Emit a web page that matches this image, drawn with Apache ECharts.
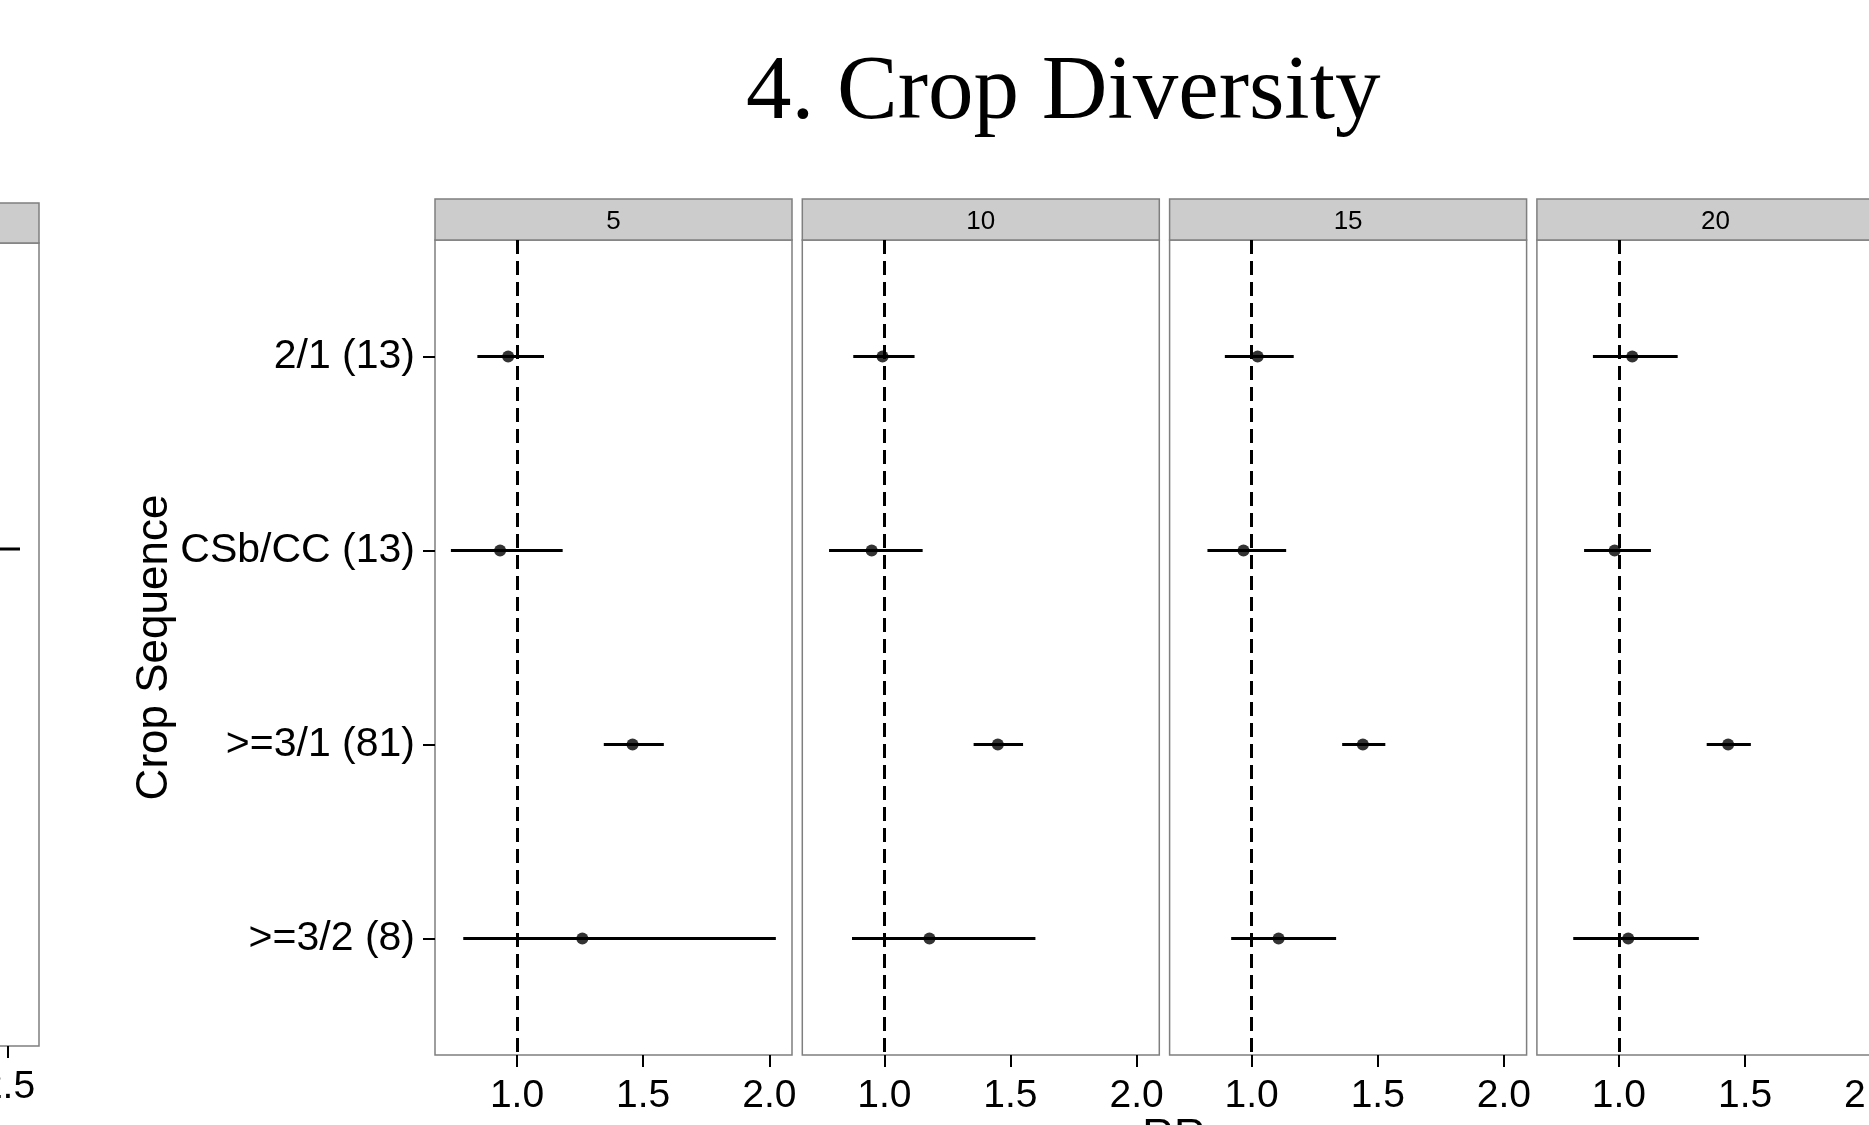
<!DOCTYPE html>
<html>
<head>
<meta charset="utf-8">
<script src="https://cdn.jsdelivr.net/npm/echarts@6/dist/echarts.min.js"></script>
<style>
html, body { margin: 0; padding: 0; background: #fff; }
#main { width: 1869px; height: 1125px; }
</style>
</head>
<body>
<div id="main"></div>
<script>
// rows, top to bottom
const cropSeq = ['2/1 (13)', 'CSb/CC (13)', '>=3/1 (81)', '>=3/2 (8)'];
const panelNames = ['5', '10', '15', '20'];
const xTicks = [1.0, 1.5, 2.0];

// RR and its interval, one set per panel
const rr5  = [0.965, 0.933, 1.458, 1.259];
const lo5  = [0.843, 0.738, 1.344, 0.787];
const hi5  = [1.107, 1.181, 1.582, 2.026];

const rr10 = [0.993, 0.950, 1.450, 1.179];
const lo10 = [0.877, 0.781, 1.354, 0.872];
const hi10 = [1.120, 1.152, 1.550, 1.599];

const rr15 = [1.024, 0.968, 1.441, 1.107];
const lo15 = [0.894, 0.825, 1.359, 0.919];
const hi15 = [1.167, 1.137, 1.530, 1.335];

const rr20 = [1.053, 0.983, 1.433, 1.037];
const lo20 = [0.897, 0.862, 1.348, 0.819];
const hi20 = [1.233, 1.127, 1.523, 1.317];

// piece of the previous chart cut at the left edge
const prevTicks = [2.5];
const prevLo = [2.25];
const prevHi = [2.585];
const prevRow = [2];

const rrs = [rr5, rr10, rr15, rr20];
const los = [lo5, lo10, lo15, lo20];
const his = [hi5, hi10, hi15, hi20];

const chart = echarts.init(document.getElementById('main'));

const PANEL_W = 357, PANEL_STEP = 367.3, PANEL_LEFT = 435;
const PANEL_TOP = 240, PANEL_H = 815, STRIP_H = 41;
const SANS = 'Liberation Sans, Arial, sans-serif';

const grids = [], xAxes = [], yAxes = [], series = [], graphics = [];

function errBar(params, api) {
  const a = api.coord([api.value(0), api.value(2)]);
  const b = api.coord([api.value(1), api.value(2)]);
  return {
    type: 'line',
    shape: { x1: a[0], y1: a[1], x2: b[0], y2: b[1] },
    style: { stroke: '#000', lineWidth: 3 }
  };
}

panelNames.forEach(function (name, i) {
  const left = PANEL_LEFT + i * PANEL_STEP;
  grids.push({
    left: left, top: PANEL_TOP, width: PANEL_W, height: PANEL_H,
    show: true, borderColor: '#7f7f7f', borderWidth: 1.5, backgroundColor: '#fff',
    outerBoundsMode: 'none', containLabel: false
  });
  xAxes.push({
    type: 'value', gridIndex: i, min: 0.675, max: 2.09,
    axisLine: { show: false },
    splitLine: { show: false },
    axisTick: { show: true, customValues: xTicks, length: 12, lineStyle: { color: '#000', width: 2 } },
    axisLabel: {
      customValues: xTicks, margin: 22, color: '#000', fontSize: 39, fontFamily: SANS,
      formatter: function (v) { return v.toFixed(1); }
    }
  });
  yAxes.push({
    type: 'value', gridIndex: i, min: 0.4, max: 4.6, inverse: true,
    axisLine: { show: false },
    splitLine: { show: false },
    axisTick: { show: i === 0, customValues: [1, 2, 3, 4], length: 12, lineStyle: { color: '#000', width: 2 } },
    axisLabel: {
      show: i === 0, customValues: [1, 2, 3, 4], margin: 20, color: '#000', fontSize: 41, fontFamily: SANS,
      formatter: function (v) { return cropSeq[Math.round(v) - 1] || ''; }
    },
    name: i === 0 ? 'Crop Sequence' : '',
    nameLocation: 'middle', nameRotate: 90, nameGap: 250,
    nameTextStyle: { color: '#000', fontSize: 44, fontFamily: SANS }
  });
  series.push({
    type: 'custom', xAxisIndex: i, yAxisIndex: i,
    renderItem: errBar,
    encode: { x: [0, 1], y: 2 },
    data: cropSeq.map(function (c, j) { return [los[i][j], his[i][j], j + 1]; }),
    z: 3
  });
  series.push({
    type: 'scatter', xAxisIndex: i, yAxisIndex: i,
    symbolSize: 12, itemStyle: { color: '#000' },
    data: cropSeq.map(function (c, j) { return [rrs[i][j], j + 1]; }),
    z: 4,
    markLine: {
      silent: true, symbol: ['none', 'none'], label: { show: false },
      lineStyle: { color: '#000', width: 3, type: [14, 7] },
      data: [{ xAxis: 1 }]
    }
  });
  graphics.push({
    type: 'group', children: [
      { type: 'rect', shape: { x: left, y: PANEL_TOP - STRIP_H, width: PANEL_W, height: STRIP_H },
        style: { fill: '#cccccc', stroke: '#7f7f7f', lineWidth: 1.5 } },
      { type: 'text', x: left + PANEL_W / 2, y: PANEL_TOP - STRIP_H / 2 + 2,
        style: { text: name, fill: '#000', font: '26px ' + SANS, textAlign: 'center', textVerticalAlign: 'middle' } }
    ]
  });
});

// cut-off panel on the left
const pi = panelNames.length;
grids.push({
  left: -330, top: 243, width: 369, height: 803,
  show: true, borderColor: '#7f7f7f', borderWidth: 1.5, backgroundColor: '#fff',
  outerBoundsMode: 'none', containLabel: false
});
xAxes.push({
  type: 'value', gridIndex: pi, min: 0.1, max: 2.72,
  axisLine: { show: false }, splitLine: { show: false },
  axisTick: { show: true, customValues: prevTicks, length: 12, lineStyle: { color: '#000', width: 2 } },
  axisLabel: { customValues: prevTicks, margin: 22, color: '#000', fontSize: 39, fontFamily: SANS,
    formatter: function (v) { return v.toFixed(1); } }
});
yAxes.push({
  type: 'value', gridIndex: pi, min: 0.4, max: 4.6, inverse: true,
  axisLine: { show: false }, splitLine: { show: false }, axisTick: { show: false }, axisLabel: { show: false }
});
series.push({
  type: 'custom', xAxisIndex: pi, yAxisIndex: pi, renderItem: errBar,
  encode: { x: [0, 1], y: 2 },
  data: prevRow.map(function (r, j) { return [prevLo[j], prevHi[j], r]; })
});
graphics.push({
  type: 'rect', shape: { x: -330, y: 203, width: 369, height: 40 },
  style: { fill: '#cccccc', stroke: '#7f7f7f', lineWidth: 1.5 }
});
graphics.push({
  type: 'text', x: 1174, y: 1116,
  style: { text: 'RR', fill: '#000', font: '44px ' + SANS, textAlign: 'center', textVerticalAlign: 'top' }
});

chart.setOption({
  animation: false,
  backgroundColor: '#fff',
  title: {
    text: '4. Crop Diversity', left: 741, top: 44,
    textStyle: { fontFamily: 'Liberation Serif, Times New Roman, serif', fontSize: 91, fontWeight: 'normal', color: '#000' }
  },
  grid: grids,
  xAxis: xAxes,
  yAxis: yAxes,
  series: series,
  graphic: graphics
});
</script>
</body>
</html>
